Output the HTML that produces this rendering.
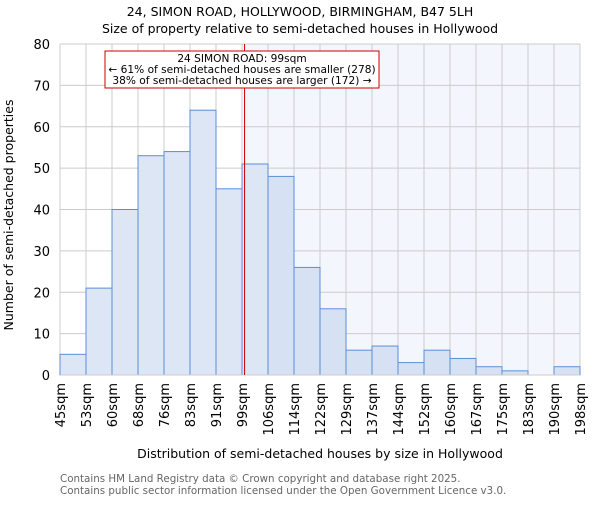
<!DOCTYPE html>
<html><head><meta charset="utf-8"><style>
body{margin:0;background:#fff}
svg text{font-family:"DejaVu Sans","Liberation Sans",sans-serif}
</style></head><body>
<svg id="c" width="600" height="500" xmlns="http://www.w3.org/2000/svg">
<text x="300" y="16" text-anchor="middle" font-size="12.5">24, SIMON ROAD, HOLLYWOOD, BIRMINGHAM, B47 5LH</text>
<text x="300" y="33" text-anchor="middle" font-size="12.5">Size of property relative to semi-detached houses in Hollywood</text>
<g id="plot"></g>
<text transform="translate(13,215) rotate(-90)" text-anchor="middle" font-size="12.5">Number of semi-detached properties</text>
<text x="320" y="458" text-anchor="middle" font-size="12.5">Distribution of semi-detached houses by size in Hollywood</text>
<text x="60" y="482" font-size="10.3" fill="#666">Contains HM Land Registry data © Crown copyright and database right 2025.</text>
<text x="60" y="494" font-size="10.3" fill="#666">Contains public sector information licensed under the Open Government Licence v3.0.</text>
</svg>
<script>
const binLabels=["45sqm","53sqm","60sqm","68sqm","76sqm","83sqm","91sqm","99sqm","106sqm","114sqm","122sqm","129sqm","137sqm","144sqm","152sqm","160sqm","167sqm","175sqm","183sqm","190sqm","198sqm"];
const counts=[5,21,40,53,54,64,45,51,48,26,16,6,7,3,6,4,2,1,0,2];
const yTicks=[0,10,20,30,40,50,60,70,80];
const binStart=45, binEnd=198;
const markerValue=99.3;
const annotLines=["24 SIMON ROAD: 99sqm","← 61% of semi-detached houses are smaller (278)","38% of semi-detached houses are larger (172) →"];

const NS="http://www.w3.org/2000/svg";
const L=60,R=580,T=44,B=375,yMax=80;
const g=document.getElementById('plot');
const bw=(R-L)/counts.length;
const x=v=>L+(v-binStart)/(binEnd-binStart)*(R-L);
const xi=i=>L+i*bw;
const y=v=>B-v/yMax*(B-T);
function mk(t,a){const e=document.createElementNS(NS,t);for(const k in a)e.setAttribute(k,a[k]);g.appendChild(e);return e;}
const mx=x(markerValue);
let e=mk('rect',{x:mx,y:T,width:R-mx,height:B-T,fill:'#f3f6fd'});


yTicks.forEach(t=>{
  let l=mk('line',{x1:L,x2:R,y1:y(t),y2:y(t),stroke:'#ccc','stroke-width':1});
  
  
  let tx=mk('text',{x:L-10,y:y(t)+5,'text-anchor':'end','font-size':13});
  tx.textContent=t;
  
  
});
binLabels.forEach((s,i)=>{
  let l=mk('line',{x1:xi(i),x2:xi(i),y1:T,y2:B,stroke:'#ccc','stroke-width':1});
  
  
  let tx=mk('text',{transform:`translate(${xi(i)+5},${B+8}) rotate(-90)`,'text-anchor':'end','font-size':13});
  tx.textContent=s;
  
  
});
counts.forEach((c,i)=>{
  if(c<=0)return;
  let r=mk('rect',{x:xi(i),y:y(c),width:bw,height:B-y(c),fill:xi(i)>=mx-2?'#d6e2f3':'#dce6f4',stroke:'#5b8fd6','stroke-width':1});
  
  
});
let ax=mk('line',{x1:L,x2:R,y1:B,y2:B,stroke:'#ccc'});


let ml=mk('line',{x1:mx,x2:mx,y1:T,y2:B,stroke:'#cc0000','stroke-width':1});


let bx=mk('rect',{x:105,y:51,width:274,height:37,fill:'#fff',stroke:'#cc0000','stroke-width':1});


annotLines.forEach((s,i)=>{
  let t=mk('text',{x:242,y:62+i*11,'text-anchor':'middle','font-size':10.6});
  t.textContent=s;
  
  
});
</script>
</body></html>
